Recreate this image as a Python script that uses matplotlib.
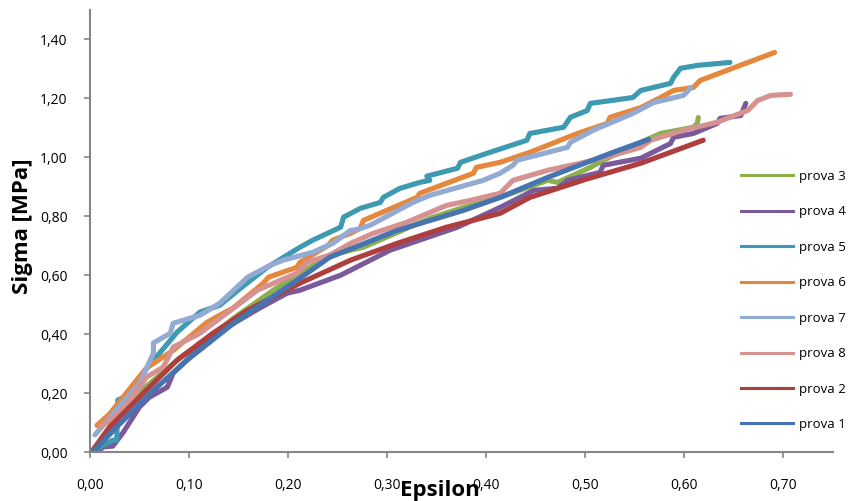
import matplotlib
matplotlib.use("Agg")
import matplotlib.pyplot as plt
from matplotlib.lines import Line2D
from matplotlib.ticker import FuncFormatter

plt.rcParams['font.family'] = ['Open Sans', 'DejaVu Sans']

# Data (Epsilon, Sigma [MPa])
prova3_x = [0.005, 0.012, 0.040, 0.068, 0.091, 0.118, 0.145, 0.185, 0.212, 0.242, 0.276,
            0.343, 0.377, 0.414, 0.462, 0.472, 0.505, 0.538, 0.576, 0.609, 0.613, 0.614]
prova3_y = [0.000, 0.050, 0.176, 0.254, 0.320, 0.380, 0.454, 0.549, 0.607, 0.668, 0.695,
            0.793, 0.830, 0.864, 0.922, 0.915, 0.966, 1.024, 1.081, 1.102, 1.115, 1.135]

prova4_x = [0.008, 0.013, 0.023, 0.033, 0.050, 0.060, 0.078, 0.084, 0.101, 0.128, 0.172,
            0.199, 0.212, 0.253, 0.303, 0.371, 0.414, 0.448, 0.472, 0.482, 0.515, 0.518,
            0.556, 0.586, 0.589, 0.609, 0.633, 0.636, 0.657, 0.662]
prova4_y = [0.000, 0.017, 0.020, 0.064, 0.153, 0.186, 0.220, 0.268, 0.322, 0.403, 0.490,
            0.539, 0.549, 0.600, 0.685, 0.763, 0.830, 0.888, 0.895, 0.922, 0.949, 0.973,
            0.997, 1.047, 1.068, 1.081, 1.115, 1.132, 1.142, 1.183]

prova5_x = [0.005, 0.023, 0.027, 0.028, 0.043, 0.050, 0.088, 0.111, 0.131, 0.152, 0.179,
            0.212, 0.225, 0.253, 0.256, 0.273, 0.293, 0.296, 0.313, 0.333, 0.343, 0.340,
            0.371, 0.374, 0.401, 0.441, 0.444, 0.478, 0.485, 0.502, 0.505, 0.548, 0.556,
            0.586, 0.589, 0.596, 0.613, 0.646]
prova5_y = [0.007, 0.040, 0.040, 0.176, 0.200, 0.254, 0.407, 0.475, 0.498, 0.556, 0.627,
            0.695, 0.719, 0.763, 0.797, 0.827, 0.847, 0.864, 0.895, 0.915, 0.922, 0.936,
            0.963, 0.983, 1.014, 1.058, 1.081, 1.102, 1.136, 1.159, 1.183, 1.203, 1.227,
            1.251, 1.271, 1.302, 1.312, 1.322]

prova6_x = [0.007, 0.020, 0.057, 0.084, 0.118, 0.145, 0.175, 0.180, 0.209, 0.212, 0.240,
            0.245, 0.263, 0.273, 0.276, 0.330, 0.333, 0.387, 0.390, 0.414, 0.444, 0.492,
            0.522, 0.525, 0.556, 0.576, 0.589, 0.609, 0.616, 0.691]
prova6_y = [0.090, 0.130, 0.285, 0.345, 0.440, 0.490, 0.573, 0.593, 0.627, 0.644, 0.700,
            0.719, 0.742, 0.760, 0.786, 0.864, 0.878, 0.946, 0.966, 0.983, 1.017, 1.081,
            1.115, 1.136, 1.169, 1.203, 1.227, 1.237, 1.261, 1.356]

prova7_x = [0.005, 0.050, 0.053, 0.064, 0.064, 0.081, 0.084, 0.111, 0.131, 0.145, 0.159,
            0.182, 0.195, 0.225, 0.245, 0.263, 0.270, 0.283, 0.326, 0.343, 0.397, 0.414,
            0.427, 0.431, 0.482, 0.485, 0.508, 0.548, 0.569, 0.599, 0.604, 0.606]
prova7_y = [0.058, 0.234, 0.254, 0.335, 0.370, 0.403, 0.437, 0.464, 0.505, 0.549, 0.593,
            0.634, 0.651, 0.678, 0.708, 0.752, 0.755, 0.770, 0.847, 0.871, 0.922, 0.946,
            0.973, 0.990, 1.034, 1.051, 1.092, 1.149, 1.186, 1.210, 1.227, 1.237]

prova8_x = [0.010, 0.030, 0.050, 0.057, 0.074, 0.084, 0.111, 0.138, 0.169, 0.209, 0.219,
            0.242, 0.263, 0.286, 0.320, 0.360, 0.384, 0.414, 0.427, 0.462, 0.495, 0.528,
            0.556, 0.566, 0.599, 0.633, 0.664, 0.674, 0.687, 0.707]
prova8_y = [0.085, 0.132, 0.220, 0.254, 0.288, 0.356, 0.403, 0.471, 0.549, 0.607, 0.644,
            0.668, 0.708, 0.742, 0.780, 0.837, 0.854, 0.878, 0.922, 0.956, 0.980, 1.007,
            1.034, 1.058, 1.092, 1.119, 1.159, 1.193, 1.210, 1.214]

prova2_x = [0.003, 0.020, 0.057, 0.088, 0.124, 0.159, 0.212, 0.263, 0.310, 0.360, 0.414,
            0.444, 0.500, 0.556, 0.619]
prova2_y = [0.007, 0.085, 0.210, 0.312, 0.403, 0.481, 0.573, 0.651, 0.708, 0.763, 0.810,
            0.864, 0.925, 0.980, 1.058]

prova1_x = [0.003, 0.027, 0.061, 0.098, 0.145, 0.179, 0.212, 0.242, 0.310, 0.377, 0.414,
            0.462, 0.528, 0.556, 0.564]
prova1_y = [0.000, 0.085, 0.200, 0.312, 0.437, 0.515, 0.590, 0.661, 0.752, 0.820, 0.864,
            0.932, 1.017, 1.051, 1.061]

labels = ["prova 3", "prova 4", "prova 5", "prova 6", "prova 7", "prova 8", "prova 2", "prova 1"]
xs = [prova3_x, prova4_x, prova5_x, prova6_x, prova7_x, prova8_x, prova2_x, prova1_x]
ys = [prova3_y, prova4_y, prova5_y, prova6_y, prova7_y, prova8_y, prova2_y, prova1_y]
colors = ["#8DB04F", "#7A5A9A", "#3D9AB0", "#E5873C", "#93AAD4", "#D69291", "#AE3F3E", "#4574B0"]

fig = plt.figure(figsize=(8.49, 5.01), dpi=100)
ax = fig.add_axes([90 / 849, 49 / 501, 743 / 849, 442 / 501])

for x, y, c in zip(xs, ys, colors):
    ax.plot(x, y, color=c, lw=3.7, solid_capstyle='round', solid_joinstyle='round')

ax.set_xlim(0, 0.75)
ax.set_ylim(0, 1.5)
ax.set_xticks([0.0, 0.1, 0.2, 0.3, 0.4, 0.5, 0.6, 0.7])
ax.set_yticks([0.0, 0.2, 0.4, 0.6, 0.8, 1.0, 1.2, 1.4])
comma = FuncFormatter(lambda v, p: f"{v:.2f}".replace(".", ","))
ax.xaxis.set_major_formatter(comma)
ax.yaxis.set_major_formatter(comma)

for s in ["top", "right"]:
    ax.spines[s].set_visible(False)
for s in ["left", "bottom"]:
    ax.spines[s].set_color("#868686")
    ax.spines[s].set_linewidth(1.5)
ax.tick_params(axis='both', colors="#868686", length=4, width=1.2, labelsize=10, labelcolor="black")
ax.tick_params(axis='x', pad=15)
ax.tick_params(axis='y', pad=12)

ax.set_xlabel("Epsilon", fontsize=16, fontweight='bold')
ax.xaxis.set_label_coords(0.471, -0.063)
ax.set_ylabel("Sigma [MPa]", fontsize=16, fontweight='bold')
ax.yaxis.set_label_coords(-0.077, 0.51)

handles = [Line2D([0], [0], color=c, lw=2.2) for c in colors]
fig.legend(handles, labels, loc='upper left', bbox_to_anchor=(741 / 849, 1 - 170 / 501),
           frameon=False, fontsize=9.5, handlelength=3.95, handletextpad=0.45,
           labelspacing=1.7, borderaxespad=0, borderpad=0)

plt.savefig("out.png", dpi=100)
plt.close()
